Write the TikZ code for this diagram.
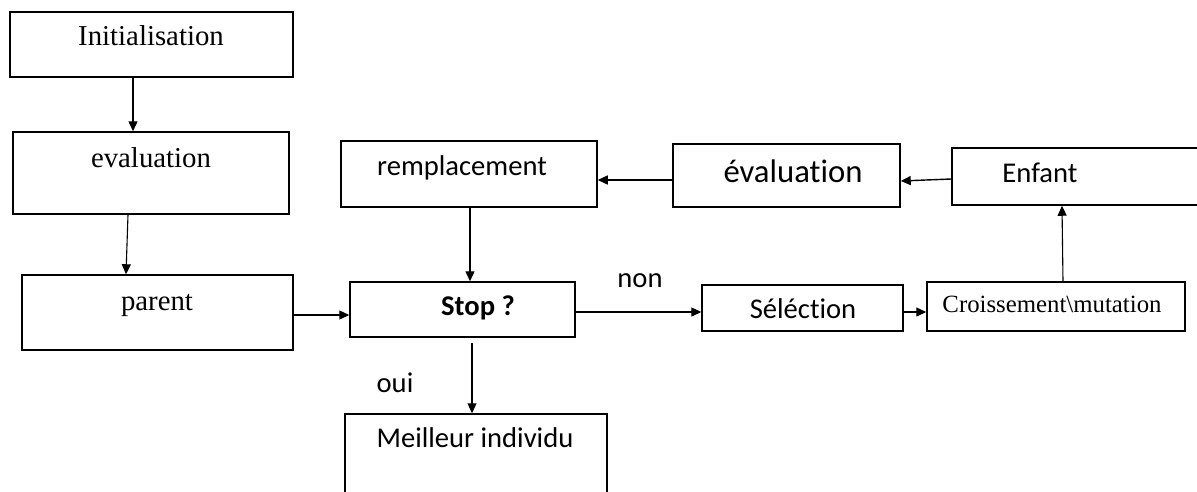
\documentclass[tikz,border=0pt]{standalone}
\usepackage{fontspec}
\setmainfont{Liberation Serif}
\newfontfamily\calib[Ligatures=NoCommon]{Carlito}
\usetikzlibrary{arrows.meta}

\tikzset{
  box/.style={draw=black, line width=1.5pt, rectangle, inner sep=0pt},
  arr/.style={line width=1.4pt, -{Triangle[length=10pt,width=9pt]}},
  thinarr/.style={line width=1.1pt, -{Triangle[length=10pt,width=9pt]}},
  serif/.style={anchor=base, inner sep=0pt, font=\fontsize{28.8}{34}\selectfont},
  serifsm/.style={anchor=base, inner sep=0pt, font=\fontsize{24.8}{30}\selectfont},
  sans/.style={anchor=base, inner sep=0pt, font=\calib\fontsize{28.6}{34}\selectfont},
  sansbig/.style={anchor=base, inner sep=0pt, font=\calib\fontsize{32.7}{38}\selectfont},
  sansbold/.style={anchor=base, inner sep=0pt, font=\calib\bfseries\fontsize{28.6}{34}\selectfont},
}

% rectangle node spanning corner (x1,y1) to corner (x2,y2)
\newcommand{\boxat}[5]{%
  \node[box, minimum width={#4-#2}, minimum height={#5-#3}] (#1) at ({(#2+#4)/2},{(#3+#5)/2}) {};}

\begin{document}
\begin{tikzpicture}[x=1pt, y=-1pt]
  \clip (0,0) rectangle (1197,491);
  \fill[white] (0,0) rectangle (1197,491);

  % left column
  \boxat{init}{10}{12}{293}{77}
  \boxat{evalA}{13}{132}{289}{214}
  \boxat{parent}{22}{275}{293}{350}
  % centre column
  \boxat{rempl}{341}{141}{597}{207}
  \boxat{stop}{350}{282}{575}{337}
  \boxat{best}{345}{414}{607}{505}
  % right part
  \boxat{evalB}{673}{144}{900}{207}
  \boxat{enfant}{952}{148}{1215}{205}
  \boxat{select}{702}{285}{903}{331}
  \boxat{cross}{927}{282}{1185}{331}

  % texts
  \node[serif] (tinit) at (151,45) {Initialisation};
  \node[serif] (tevalA) at (151,167) {evaluation};
  \node[serif] (tparent) at (157,310) {parent};
  \node[sans] (trempl) at (462,175) {remplacement};
  \node[sansbold] (tstop) at (478,315) {Stop ?};
  \node[sans] (tbest) at (475,447) {Meilleur individu};
  \node[sansbig] (tevalB) at (793,182) {évaluation};
  \node[sans] (tenfant) at (1040,182) {Enfant};
  \node[sans] (tselect) at (803,318) {Séléction};
  \node[serifsm] (tcross) at (1052,312) {Croissement\textbackslash mutation};
  \node[sans] (tnon) at (640,287) {non};
  \node[sans] (toui) at (395,392) {oui};

  % connectors
  \draw[arr] (init.south -| 133,0) -- (evalA.north -| 133,0);
  \draw[thinarr] (evalA.south -| 128,0) -- (parent.north -| 126,0);
  \draw[arr] (parent.east |- 0,315) -- (stop.west |- 0,315);
  \draw[arr] (rempl.south -| 470,0) -- (stop.north -| 470,0);
  \draw[thinarr, shorten <=5pt] (stop.south -| 472,0) -- (best.north -| 472,0);
  \draw[arr] (stop.east |- 0,312) -- (select.west |- 0,312);
  \draw[arr] (select.east |- 0,312) -- (cross.west |- 0,312);
  \draw[thinarr] (cross.north -| 1063,0) -- (enfant.south -| 1062,0);
  \draw[arr] (enfant.west |- 0,179) -- (evalB.east |- 0,181);
  \draw[arr] (evalB.west |- 0,180) -- (rempl.east |- 0,180);
\end{tikzpicture}
\end{document}
